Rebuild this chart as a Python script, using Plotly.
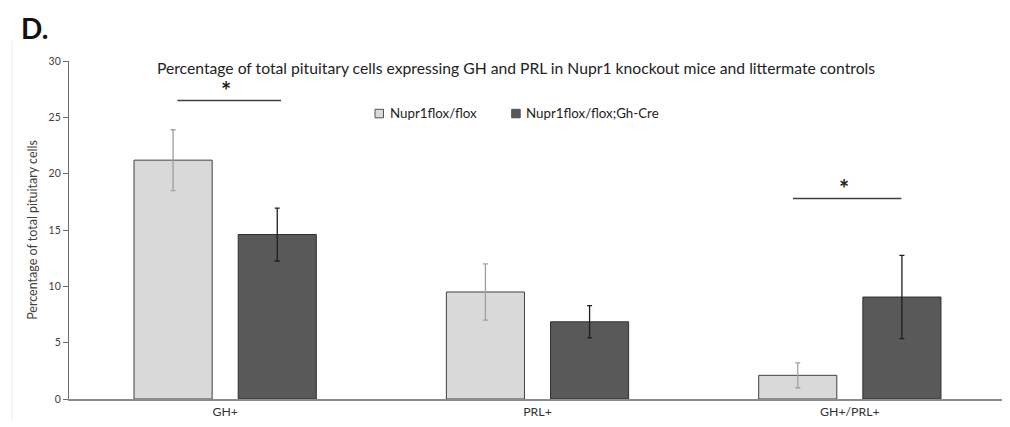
import plotly.graph_objects as go

categories = ["GH+", "PRL+", "GH+/PRL+"]
series_names = ["Nupr1flox/flox", "Nupr1flox/flox;Gh-Cre"]
control_vals = [21.2, 9.5, 2.1]
control_err = [2.7, 2.5, 1.1]
cre_vals = [14.6, 6.85, 9.05]
cre_err = [2.35, 1.43, 3.7]
yticks = [0, 5, 10, 15, 20, 25, 30]
title_text = "Percentage of total pituitary cells expressing GH and PRL in Nupr1 knockout mice and littermate controls"
ytitle = "Percentage of total pituitary cells"
# significance brackets: (category index, start offset, end offset, height)
sig = [(0, -0.153, 0.179, 26.5), (2, -0.182, 0.165, 17.8)]

FONT = "Lato"
LIGHT = "#d9d9d9"
DARK = "#595959"
fig = go.Figure()
fig.add_trace(go.Bar(
    x=categories, y=control_vals, name=series_names[0], showlegend=False,
    marker=dict(color=LIGHT, line=dict(color="#404040", width=1)),
    error_y=dict(type="data", array=control_err, color="#a0a0a0", thickness=1.3, width=2.5),
))
fig.add_trace(go.Bar(
    x=categories, y=cre_vals, name=series_names[1], showlegend=False,
    marker=dict(color=DARK, line=dict(color="#303030", width=1)),
    error_y=dict(type="data", array=cre_err, color="#1e1e1e", thickness=1.3, width=2.5),
))

for ci, a, b, h in sig:
    fig.add_shape(type="line", xref="x", yref="y", x0=ci + a, x1=ci + b, y0=h, y1=h,
                  line=dict(color="#404040", width=1.6))
    fig.add_annotation(x=ci + (a + b) / 2 - 0.01, y=h, xref="x", yref="y", text="<b>*</b>",
                       showarrow=False, yanchor="bottom", yshift=-7,
                       font=dict(family=FONT, size=24, color="#222"))

# page offset (body margin) compensation: figure starts at screen px 8
PL, PR, PT, PB = 61, 4, 52.7, 28.3
W, H = 1002, 419
pw = W - PL - PR
ph = H - PT - PB


def px(X):
    return (X - 8 - PL) / pw


def py(Y):
    return (H - PB - (Y - 8)) / ph


# manual legend
leg = [(375, 388, LIGHT, series_names[0]), (511.7, 523.5, DARK, series_names[1])]
for sx, tx, col, name in leg:
    fig.add_shape(type="rect", xref="paper", yref="paper", x0=px(sx), x1=px(sx + 8.5),
                  y0=py(117.5), y1=py(109), fillcolor=col, line=dict(color="#505050", width=1))
    fig.add_annotation(x=px(tx), y=py(113), xref="paper", yref="paper", text=name, showarrow=False,
                       xanchor="left", yanchor="middle", font=dict(family=FONT, size=13.3, color="#222"))

fig.add_annotation(x=px(19), y=py(27.5), xref="paper", yref="paper", text="<b>D.</b>", showarrow=False,
                   xanchor="left", yanchor="middle", font=dict(family=FONT, size=28, color="#111"))

fig.add_shape(type="line", xref="paper", yref="paper", x0=px(12), x1=px(12), y0=py(420), y1=py(40),
              line=dict(color="#ececec", width=1))

fig.update_layout(
    width=W, height=H,
    margin=dict(l=PL, r=PR, t=PT, b=PB, autoexpand=False),
    paper_bgcolor="white", plot_bgcolor="white",
    barmode="group", bargap=0.333, bargroupgap=0.25,
    font=dict(family=FONT, size=11, color="#404040"),
    title=dict(text=title_text, x=(516 - 8) / W, xanchor="center", y=1 - (68.5 - 8) / H, yanchor="middle",
               xref="container", yref="container",
               font=dict(family=FONT, size=15.7, color="#222")),
    showlegend=False,
    xaxis=dict(showline=True, linecolor="#8c8c8c", linewidth=1.6, ticks="",
               tickfont=dict(size=12.3, color="#333"), range=[-0.5, 2.5]),
    yaxis=dict(range=[0, 30], tickvals=yticks, showline=True, linecolor="#6e6e6e", linewidth=1.3,
               ticks="outside", ticklen=5, tickcolor="#6e6e6e", showgrid=False, zeroline=False,
               tickfont=dict(size=10.5, color="#404040"),
               title=dict(text=ytitle, font=dict(size=12.5, color="#404040"), standoff=8)),
)

fig.write_html("out.html")
